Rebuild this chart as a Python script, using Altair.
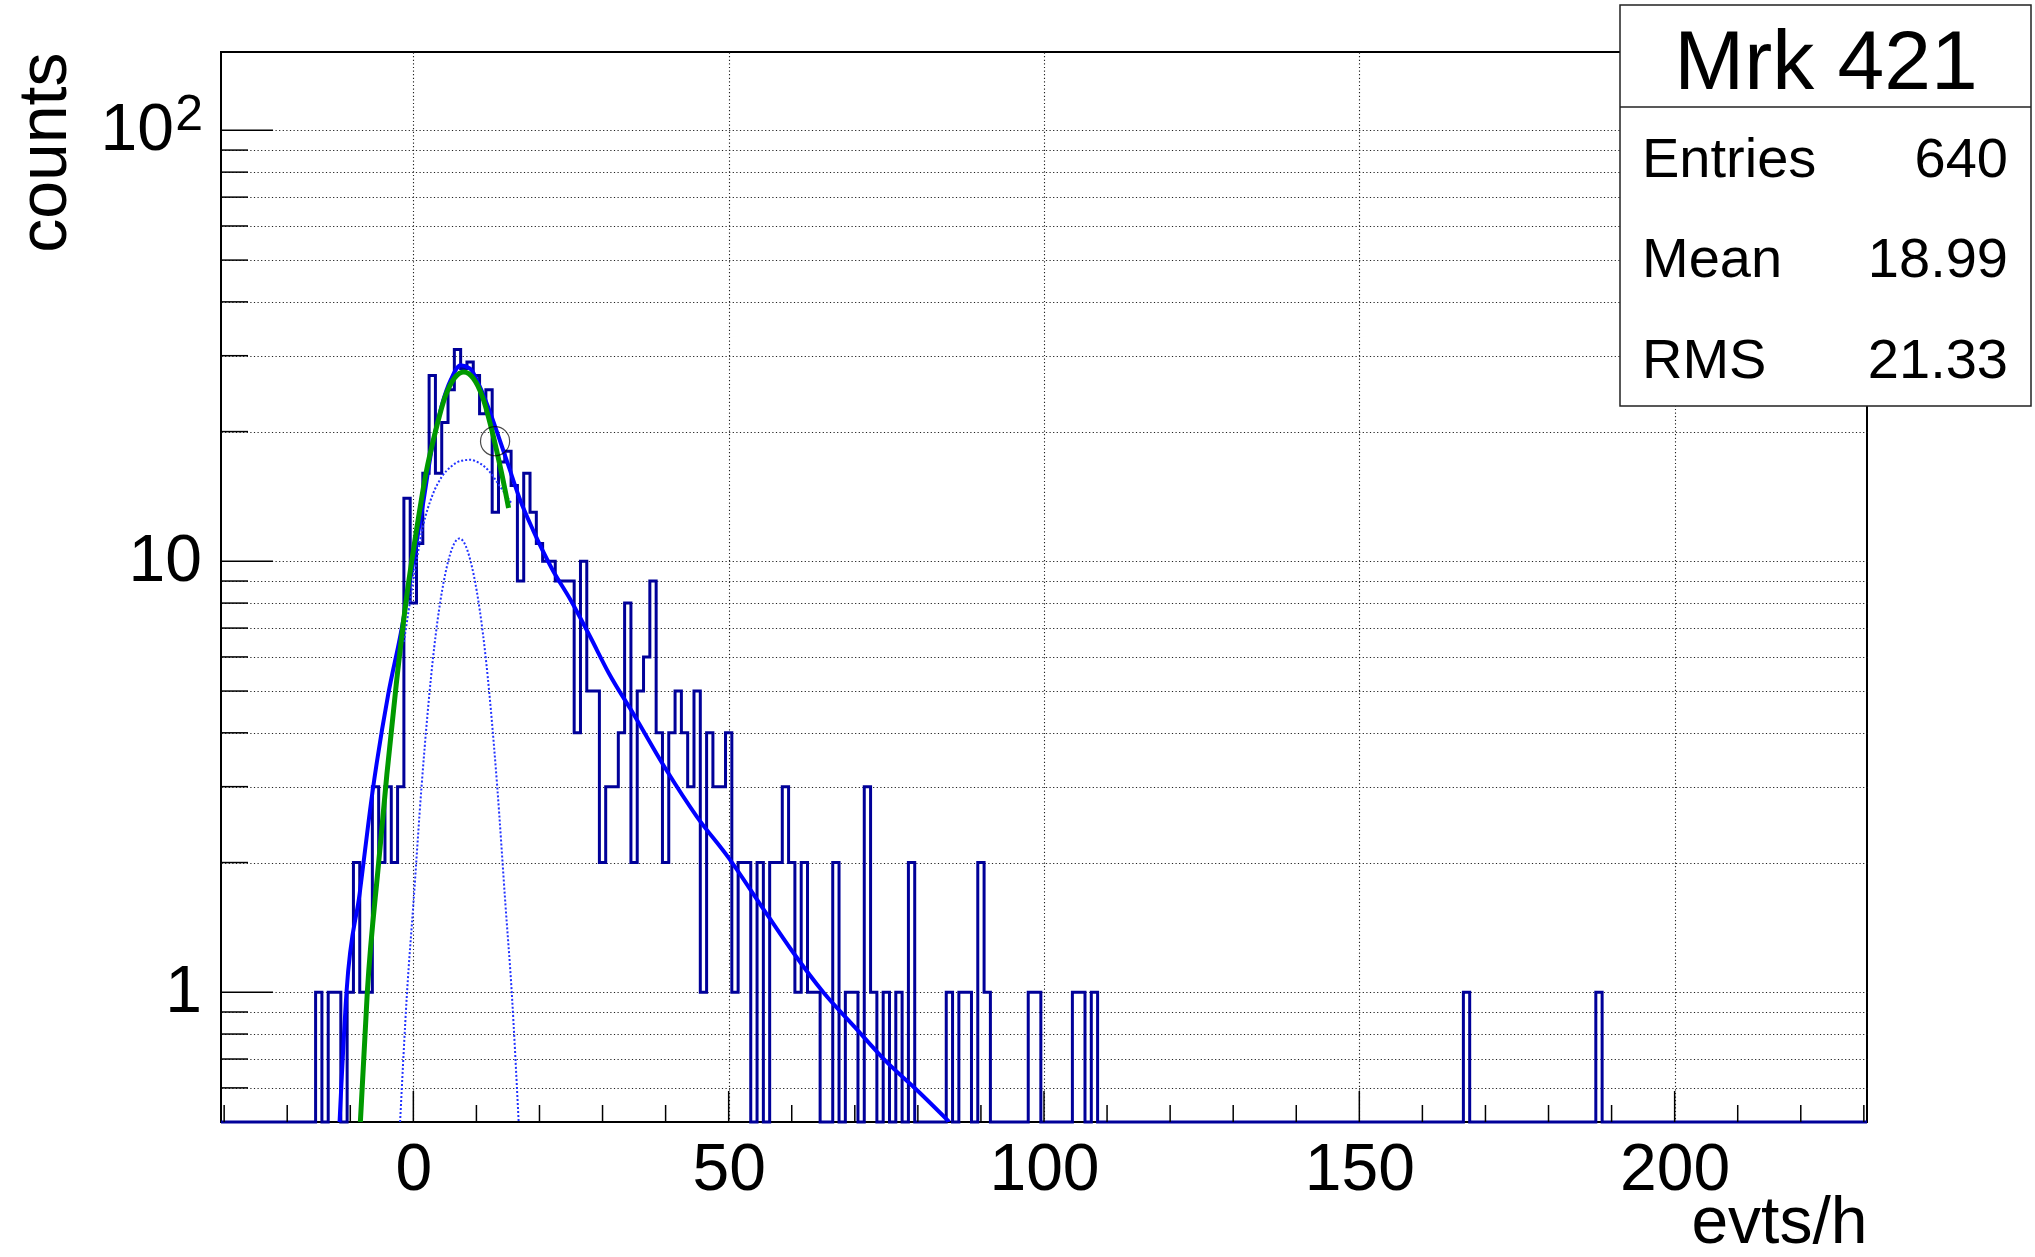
import altair as alt
import pandas as pd

FONT = "Liberation Sans"

# ---------------- data ----------------
x_min, x_max = -30.5, 230.5
y_min, y_max = 0.5, 152.0

first_bin = -16
counts = [0, 1, 0, 1, 1, 0, 1, 2, 1, 1, 3, 2, 3, 2, 3, 14,          # -16 .. -1
          8, 11, 16, 27, 16, 21, 25, 31, 28, 29, 27, 22, 25, 13,      # 0 .. 13
          17, 18, 15, 9, 16, 13, 11, 10, 10, 9, 9, 9, 4, 10,          # 14 .. 27
          5, 5, 2, 3, 3, 4, 8, 2, 5, 6, 9, 4, 2, 4, 5, 4, 3, 5, 1, 4,  # 28 .. 47
          3, 3, 4, 1, 2, 2, 0, 2, 0, 2, 2, 3, 2, 1, 2, 1, 1, 0, 0, 2,  # 48 .. 67
          0, 1, 1, 0, 3, 1, 0, 1, 0, 1, 0, 2, 0, 0, 0, 0, 0, 1, 0, 1,  # 68 .. 87
          1, 0, 2, 1, 0, 0, 0, 0, 0, 0, 1, 1, 0, 0, 0, 0, 0, 1, 1, 0,  # 88 .. 107
          1]                                                           # 108
extra_bins = [167, 188]
extra_counts = [1, 1]

total_x = [-11.7, -10.6, -8.5, -6.5, -4.0, -2.0, 0.0, 1.5, 3.0, 4.5, 6.0, 7.5, 9.0,
           10.5, 12.0, 13.5, 15.0, 17.0, 19.0, 22.0, 25.0, 28.0, 31.0, 35.0, 40.0,
           45.0, 50.0, 55.0, 60.0, 65.0, 70.0, 75.0, 80.0, 85.0]
total_y = [0.5, 1.0, 1.7, 2.9, 4.9, 6.8, 10.0, 13.5, 18.5, 23.0, 26.5, 28.5, 28.0,
           25.5, 22.5, 19.5, 16.8, 13.8, 11.8, 9.6, 8.1, 6.7, 5.5, 4.4, 3.3,
           2.55, 2.05, 1.6, 1.25, 1.0, 0.83, 0.69, 0.59, 0.5]

green_x = [-8.4, -7.3, -5.5, -4.2, -2.7, -1.0, 0.5, 2.0, 3.5, 5.0, 6.5, 8.0, 9.5,
           11.0, 12.5, 14.0, 15.1]
green_y = [0.5, 1.0, 2.0, 3.2, 5.2, 8.4, 11.8, 16.0, 20.0, 24.0, 26.6, 27.5, 26.6,
           24.0, 20.0, 16.0, 13.3]

gaus_x = [-2.1, -1.0, 0.0, 1.3, 3.3, 5.3, 7.3, 9.3, 11.3, 13.3, 14.6, 15.6, 16.7]
gaus_y = [0.5, 1.0, 1.6, 3.0, 6.3, 9.7, 11.3, 9.7, 6.3, 3.0, 1.6, 1.0, 0.5]

comp_x = [-1.5, 0.0, 1.5, 3.0, 4.5, 6.0, 7.5, 9.0, 10.5, 12.0, 13.5, 15.6]
comp_y = [6.5, 9.0, 12.0, 14.2, 15.7, 16.6, 17.1, 17.2, 16.9, 16.2, 15.1, 13.6]

marker_x = [12.96]
marker_y = [19.0]

y_major = [1, 10, 100]
y_minor = [0.6, 0.7, 0.8, 0.9, 2, 3, 4, 5, 6, 7, 8, 9, 20, 30, 40, 50, 60, 70, 80, 90]
y_label_vals = [1, 10]
y_label_text = ["1", "10"]
y_pow_val = [100]
y_pow_base = ["10"]
y_pow_exp = ["2"]
x_major = [0, 50, 100, 150, 200]
x_minor = [-30, -20, -10, 10, 20, 30, 40, 60, 70, 80, 90, 110, 120, 130, 140,
           160, 170, 180, 190, 210, 220, 230]

stat_title = "Mrk 421"
stat_names = ["Entries", "Mean", "RMS"]
stat_values = ["640", "18.99", "21.33"]

# ---------------- tables ----------------
cmap = {first_bin + i: c for i, c in enumerate(counts)}
for b, c in zip(extra_bins, extra_counts):
    cmap[b] = c
rows = [{"x": b - 0.5, "c": cmap.get(b, 0)} for b in range(-30, 231)]
rows.append({"x": 230.5, "c": cmap.get(230, 0)})
hist_df = pd.DataFrame(rows)

W, H = 1646, 1070
xs = alt.Scale(domain=[x_min, x_max], nice=False, zero=False)
ys = alt.Scale(type="log", domain=[y_min, y_max], nice=False)

grid_vals = sorted(y_minor + y_major)
GRID = dict(grid=True, gridDash=[1.2, 2.4], gridColor="#222", gridWidth=1.1)

X_AXIS = alt.Axis(
    values=x_major, ticks=False, domain=False, labelFont=FONT, labelFontSize=66,
    labelColor="black", labelPadding=15, labelFlush=False, format="d",
    title="evts/h", titleFont=FONT, titleFontSize=66, titleFontWeight="normal",
    titleColor="black", titleX=W, titleY=120, titleAlign="right",
    titleBaseline="alphabetic", **GRID)
Y_AXIS = alt.Axis(
    values=grid_vals, ticks=False, domain=False, labels=False,
    title="counts", titleFont=FONT, titleFontSize=68, titleFontWeight="normal",
    titleColor="black", titleAngle=270, titleX=-156, titleY=0, titleAlign="right",
    titleBaseline="alphabetic", **GRID)


def xq(field):
    return alt.X(field, type="quantitative", scale=xs, axis=X_AXIS)


def yq(field):
    return alt.Y(field, type="quantitative", scale=ys, axis=Y_AXIS)


hist = alt.Chart(hist_df).transform_calculate(
    cy="datum.c > 0 ? datum.c : 0.5"
).mark_line(interpolate="step-after", color="#000099", strokeWidth=3).encode(
    x=xq("x"), y=yq("cy"))


def curve(xv, yv, **kw):
    df = pd.DataFrame({"x": xv, "y": yv})
    return alt.Chart(df).mark_line(interpolate="monotone", clip=True, **kw).encode(
        x=xq("x"), y=yq("y"))


gaus = curve(gaus_x, gaus_y, color="#2233ff", strokeWidth=2, strokeDash=[2, 2])
comp = curve(comp_x, comp_y, color="#2233ff", strokeWidth=2, strokeDash=[2, 2])
total = curve(total_x, total_y, color="#0000ff", strokeWidth=4)
green = curve(green_x, green_y, color="#009900", strokeWidth=5)

marker = alt.Chart(pd.DataFrame({"x": marker_x, "y": marker_y})).mark_point(
    shape="circle", size=850, filled=False, color="black", strokeWidth=1.2
).encode(x=xq("x"), y=yq("y"))

ytick_major = alt.Chart(pd.DataFrame({"v": y_major})).mark_rule(color="black", strokeWidth=1.5).encode(
    y=yq("v"), x=alt.value(0), x2=alt.value(52))
ytick_minor = alt.Chart(pd.DataFrame({"v": y_minor})).mark_rule(color="black", strokeWidth=1.5).encode(
    y=yq("v"), x=alt.value(0), x2=alt.value(27))
xtick_major = alt.Chart(pd.DataFrame({"v": x_major})).mark_rule(color="black", strokeWidth=1.5).encode(
    x=xq("v"), y=alt.value(H), y2=alt.value(H - 31))
xtick_minor = alt.Chart(pd.DataFrame({"v": x_minor})).mark_rule(color="black", strokeWidth=1.5).encode(
    x=xq("v"), y=alt.value(H), y2=alt.value(H - 17))

ylabels = alt.Chart(pd.DataFrame({"v": y_label_vals, "t": y_label_text})).mark_text(
    font=FONT, fontSize=66, align="right", baseline="middle", color="black"
).encode(y=yq("v"), x=alt.value(-19), text="t:N")
ypow_base = alt.Chart(pd.DataFrame({"v": y_pow_val, "t": y_pow_base})).mark_text(
    font=FONT, fontSize=66, align="right", baseline="middle", color="black"
).encode(y=yq("v"), x=alt.value(-47), text="t:N")
ypow_exp = alt.Chart(pd.DataFrame({"v": y_pow_val, "t": y_pow_exp})).mark_text(
    font=FONT, fontSize=50, align="right", baseline="alphabetic", color="black"
).encode(y=yq("v"), x=alt.value(-18), text="t:N")

one = pd.DataFrame({"a": [0]})
box = alt.Chart(one).mark_rect(fill="white", stroke="#222", strokeWidth=1.5).encode(
    x=alt.value(1399), x2=alt.value(1810), y=alt.value(-47), y2=alt.value(354))
divider = alt.Chart(one).mark_rule(color="#222", strokeWidth=1.5).encode(
    x=alt.value(1399), x2=alt.value(1810), y=alt.value(55))
title_txt = alt.Chart(one).mark_text(
    text=stat_title, font=FONT, fontSize=84, align="center", baseline="alphabetic", color="black"
).encode(x=alt.value(1605), y=alt.value(37))

stat_layers = []
baselines = [125, 225, 326]
for name, val, yb in zip(stat_names, stat_values, baselines):
    stat_layers.append(alt.Chart(one).mark_text(
        text=name, font=FONT, fontSize=56, align="left", baseline="alphabetic", color="black"
    ).encode(x=alt.value(1421), y=alt.value(yb)))
    stat_layers.append(alt.Chart(one).mark_text(
        text=val, font=FONT, fontSize=56, align="right", baseline="alphabetic", color="black"
    ).encode(x=alt.value(1787), y=alt.value(yb)))

chart = alt.layer(
    hist, gaus, comp, total, green, marker,
    ytick_major, ytick_minor, xtick_major, xtick_minor,
    ylabels, ypow_base, ypow_exp,
    box, divider, title_txt, *stat_layers
).properties(
    width=W, height=H,
    padding={"left": 221, "top": 52, "right": 2035 - 221 - W, "bottom": 1257 - 52 - H},
    autosize=alt.AutoSizeParams(type="none"),
    background="white",
).configure_view(stroke="black", strokeWidth=2)

chart.save("out.html", embed_options={"renderer": "svg", "actions": False})
